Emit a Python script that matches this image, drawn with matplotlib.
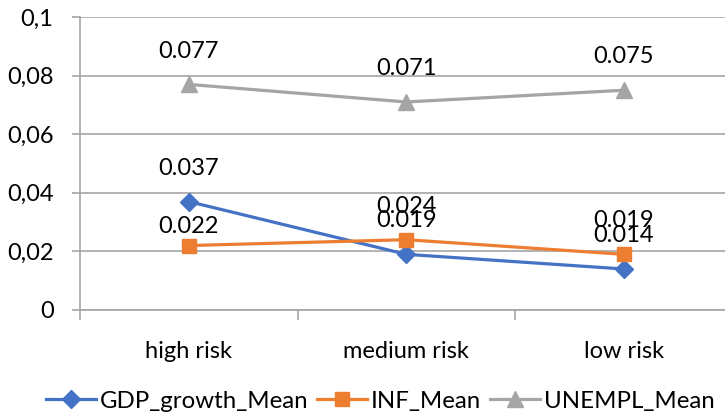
import matplotlib
matplotlib.use("Agg")
import matplotlib.pyplot as plt
from matplotlib.ticker import FixedLocator

# =========================
# DATA
# =========================
categories = ["high risk", "medium risk", "low risk"]
gdp_growth = [0.037, 0.019, 0.014]
inf_mean = [0.022, 0.024, 0.019]
unempl_mean = [0.077, 0.071, 0.075]

y_ticks = [0, 0.02, 0.04, 0.06, 0.08, 0.1]
y_tick_labels = ["0", "0,02", "0,04", "0,06", "0,08", "0,1"]

# =========================
# STYLE
# =========================
plt.rcParams["font.family"] = ["Lato", "DejaVu Sans"]
FS = 17
GRID = "#A6A6A6"

series = [
    ("GDP_growth_Mean", gdp_growth, "#4472C4", "D", 9),
    ("INF_Mean", inf_mean, "#ED7D31", "s", 10),
    ("UNEMPL_Mean", unempl_mean, "#A5A5A5", "^", 11),
]

W, H = 725, 415
fig = plt.figure(figsize=(W / 100, H / 100), dpi=100)
left, right, top, bottom = 80, 725, 17, 310
ax = fig.add_axes([left / W, 1 - bottom / H, (right - left) / W, (bottom - top) / H])

x = list(range(len(categories)))
for name, vals, color, marker, ms in series:
    ax.plot(x, vals, color=color, lw=2.3, marker=marker, ms=ms,
            label=name, zorder=3, clip_on=False)

# data labels sit above each point; the high-risk INF label is pulled lower
for name, vals, color, marker, ms in series:
    for i, v in enumerate(vals):
        off = 14 if (name == "INF_Mean" and i == 0) else 24
        ax.annotate(f"{v:.3f}", (i, v), xytext=(0, off), textcoords="offset points",
                    ha="center", va="center", fontsize=FS, color="black", zorder=4)

# =========================
# AXES
# =========================
ax.set_xlim(-0.5, -0.5 + (right - left) / 217.5)
ax.set_ylim(0, 0.1)
ax.set_yticks(y_ticks)
ax.set_yticklabels(y_tick_labels, fontsize=FS)
ax.set_xticks(x)
ax.set_xticklabels(categories, fontsize=FS)
ax.xaxis.set_minor_locator(FixedLocator([-0.5, 0.5, 1.5]))

ax.grid(axis="y", color=GRID, lw=1.2)
ax.set_axisbelow(True)
for s in ["top", "right"]:
    ax.spines[s].set_visible(False)
ax.spines["left"].set_color(GRID)
ax.spines["left"].set_linewidth(1.2)
ax.spines["bottom"].set_color(GRID)
ax.spines["bottom"].set_linewidth(1.2)

ax.tick_params(axis="y", length=6, width=1.2, color=GRID, pad=13)
ax.tick_params(axis="x", which="major", length=0, pad=22)
ax.tick_params(axis="x", which="minor", length=7, width=1.2, color=GRID)

ax.legend(loc="center", bbox_to_anchor=((380 - left) / (right - left), (bottom - 401) / (bottom - top)),
          ncol=3, frameon=False, fontsize=17.3, handlelength=2.1, handletextpad=0.15,
          columnspacing=0.35, borderaxespad=0)

fig.savefig("out.png", dpi=100)
